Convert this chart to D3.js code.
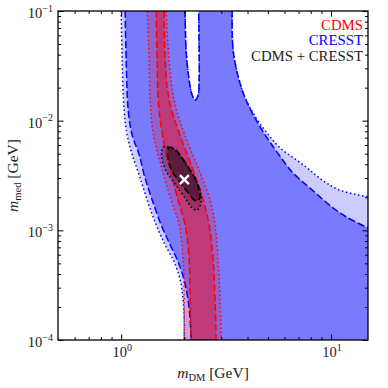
<!DOCTYPE html>
<html><head><meta charset="utf-8">
<script src="https://cdn.jsdelivr.net/npm/d3@7"></script>
<style>body{margin:0;background:#fff}svg{display:block}</style>
</head><body>
<svg id="c" width="388" height="388"></svg>
<script>
// ---------- data ----------
const xDomain = [0.5, 15];
const yDomain = [1e-4, 1e-1];
const xMajor = [1, 10];
const yMajor = [1e-4, 1e-3, 1e-2, 1e-1];
const xTickLabels = [["10", "0"], ["10", "1"]];
const yTickLabels = [["10", "−4"], ["10", "−3"], ["10", "−2"], ["10", "−1"]];
const legendLabels = ["CDMS", "CRESST", "CDMS + CRESST"];

// CRESST contours [mDM, mmed]
const cresst2Left = [[1.0,0.1],[1.011,0.0357],[1.033,0.0125],[1.068,0.0074],[1.128,0.0049],[1.218,0.0032],[1.33,0.00189],[1.468,0.00112],[1.62,0.000736],[1.788,0.000515],[1.91,0.000353],[1.974,0.000232],[1.995,0.000152],[1.995,0.0001]];
const cresst1Left = [[1.045,0.1],[1.056,0.0357],[1.08,0.0125],[1.128,0.0074],[1.218,0.0049],[1.287,0.0032],[1.405,0.00189],[1.551,0.00112],[1.711,0.000736],[1.868,0.000515],[1.995,0.000353],[2.084,0.000232],[2.131,0.000152],[2.154,0.0001]];
const cresst2Right = [[3.379,0.1],[3.415,0.0441],[3.647,0.0235],[3.937,0.01544],[4.394,0.01058],[4.957,0.00772],[5.655,0.00576],[7.60,0.00378],[9.06,0.00288],[10.92,0.00234],[15,0.00202]];
const cresst1Right = [[3.379,0.1],[3.415,0.0441],[3.647,0.0235],[3.937,0.01544],[4.394,0.01015],[4.957,0.00696],[5.655,0.00487],[6.52,0.00341],[8.12,0.00234],[10.11,0.00163],[11.79,0.00133],[15,0.00105]];
const cresstHole = [[2.017,0.1],[2.039,0.0441],[2.108,0.0235],[2.178,0.01715],[2.251,0.01544],[2.326,0.01715],[2.352,0.0235],[2.352,0.0441],[2.339,0.1]];

// CDMS band
const cdmsY = [0.1,0.0357,0.01544,0.00772,0.00355,0.00189,0.00112,0.000537,0.000232,0.0001];
const cdms2L = [1.330,1.359,1.374,1.420,1.567,1.730,1.889,1.974,1.995,1.995];
const cdms2R = [1.638,1.692,1.788,1.995,2.352,2.653,2.803,2.897,2.961,2.993];
const cdms1L = [1.468,1.484,1.501,1.567,1.711,1.868,2.017,2.108,2.131,2.154];
const cdms1R = [1.602,1.620,1.692,1.889,2.202,2.458,2.624,2.742,2.803,2.834];

// combined CDMS + CRESST
const comb1 = [[1.711,0.00572],[1.822,0.00541],[1.958,0.00454],[2.108,0.00368],[2.269,0.00288],[2.352,0.00234],[2.370,0.00196],[2.308,0.00187],[2.227,0.00189],[2.069,0.00225],[1.889,0.00278],[1.755,0.00343],[1.680,0.00423],[1.662,0.00504],[1.680,0.00560]];
const comb2 = [[1.602,0.00579],[1.755,0.00560],[1.889,0.00487],[2.069,0.00381],[2.269,0.00288],[2.396,0.00218],[2.396,0.00177],[2.308,0.00153],[2.186,0.00159],[1.995,0.00203],[1.822,0.00259],[1.662,0.00332],[1.573,0.00423],[1.556,0.00504],[1.573,0.00560]];
const bestFit = [2.0, 0.0029];

// ---------- chart ----------
const W = 388, H = 388;
const m = {l:58, r:20, t:11, b:48};
const svg = d3.select("#c");
const x = d3.scaleLog().domain(xDomain).range([m.l, W - m.r]);
const y = d3.scaleLog().domain(yDomain).range([H - m.b, m.t]);
const X0 = x.range()[0], X1 = x.range()[1], Y0 = y.range()[0], Y1 = y.range()[1];

svg.append("defs").append("clipPath").attr("id","clip")
  .append("rect").attr("x",X0).attr("y",Y1).attr("width",X1-X0).attr("height",Y0-Y1);

const line = d3.line().x(d=>x(d[0])).y(d=>y(d[1])).curve(d3.curveCatmullRom.alpha(0.5));
const closed = d3.line().x(d=>x(d[0])).y(d=>y(d[1])).curve(d3.curveCatmullRomClosed.alpha(0.5));
const cont = pts => line(pts).replace(/^M/, "L");
const corner = `L${X1},${Y0}`;

const g = svg.append("g").attr("clip-path","url(#clip)");

// fills
const cr2 = line(cresst2Left) + corner + cont(cresst2Right.slice().reverse()) + "Z" + line(cresstHole) + "Z";
const cr1 = line(cresst1Left) + corner + cont(cresst1Right.slice().reverse()) + "Z" + line(cresstHole) + "Z";
g.append("path").attr("d",cr2).attr("fill","rgba(0,0,255,0.2)").attr("fill-rule","evenodd");
g.append("path").attr("d",cr1).attr("fill","rgba(0,0,255,0.4)").attr("fill-rule","evenodd");

const zip = (xs) => xs.map((v,i)=>[v, cdmsY[i]]);
const c2L = zip(cdms2L), c2R = zip(cdms2R), c1L = zip(cdms1L), c1R = zip(cdms1R);
g.append("path").attr("d", line(c2L) + cont(c2R.slice().reverse()) + "Z").attr("fill","rgba(255,0,0,0.2)");
g.append("path").attr("d", line(c1L) + cont(c1R.slice().reverse()) + "Z").attr("fill","rgba(255,0,0,0.4)");

g.append("path").attr("d", closed(comb2)).attr("fill","rgba(0,0,0,0.2)");
g.append("path").attr("d", closed(comb1)).attr("fill","rgba(0,0,0,0.4)");

// lines
const DOT = "1.5,2.6", DASH = "7,3";
function stroke(d, col, dash){
  g.append("path").attr("d",d).attr("fill","none").attr("stroke",col)
   .attr("stroke-width",1.5).attr("stroke-dasharray",dash);
}
[cresst2Left, cresst2Right, cresstHole].forEach(p=>stroke(line(p),"#0000ff",DOT));
[cresst1Left, cresst1Right, cresstHole].forEach(p=>stroke(line(p),"#0000ff",DASH));
[c2L, c2R].forEach(p=>stroke(line(p),"#ff0000",DOT));
[c1L, c1R].forEach(p=>stroke(line(p),"#ff0000",DASH));
stroke(closed(comb2),"#000",DOT);
stroke(closed(comb1),"#000",DASH);

// best fit marker
svg.append("path").attr("d", d3.symbol().type(d3.symbolX).size(55)())
  .attr("transform",`translate(${x(bestFit[0])},${y(bestFit[1])})`)
  .attr("fill","none").attr("stroke","#fff").attr("stroke-width",2.4);

// axes (inward ticks on all four sides)
const xMinor = x.ticks().filter(v=>!xMajor.includes(v) && v>xDomain[0] && v<xDomain[1]);
const yMinor = y.ticks().filter(v=>!yMajor.includes(v));
function ax(gen, scale, vals, size, tr){
  svg.append("g").attr("transform",tr)
    .call(gen(scale).tickValues(vals).tickSize(size).tickFormat(""))
    .call(s=>{s.select(".domain").remove(); s.selectAll("line").attr("stroke","#000").attr("stroke-width",1);});
}
ax(d3.axisBottom, x, xMajor, -5.5, `translate(0,${Y0})`);
ax(d3.axisBottom, x, xMinor, -3, `translate(0,${Y0})`);
ax(d3.axisTop, x, xMajor, -5.5, `translate(0,${Y1})`);
ax(d3.axisTop, x, xMinor, -3, `translate(0,${Y1})`);
ax(d3.axisLeft, y, yMajor, -5.5, `translate(${X0},0)`);
ax(d3.axisLeft, y, yMinor, -3, `translate(${X0},0)`);
ax(d3.axisRight, y, yMajor, -5.5, `translate(${X1},0)`);
ax(d3.axisRight, y, yMinor, -3, `translate(${X1},0)`);

svg.append("rect").attr("x",X0).attr("y",Y1).attr("width",X1-X0).attr("height",Y0-Y1)
  .attr("fill","none").attr("stroke","#000").attr("stroke-width",1.3);

const FONT = "'Liberation Serif', 'DejaVu Serif', serif";
function powLabel(px, py, lab, anchor){
  const t = svg.append("text").attr("x",px).attr("y",py).attr("text-anchor",anchor)
    .attr("font-family",FONT).attr("fill","#222");
  t.append("tspan").attr("font-size",14.5).text(lab[0]);
  t.append("tspan").attr("font-size",10).attr("dy",-6.5).text(lab[1]);
}
yMajor.forEach((v,i)=>powLabel(X0-5, y(v)+7, yTickLabels[i], "end"));
xMajor.forEach((v,i)=>powLabel(x(v)+1, Y0+17, xTickLabels[i], "middle"));

// axis titles
const xt = svg.append("text").attr("x",(X0+X1)/2).attr("y",378).attr("text-anchor","middle")
  .attr("font-family",FONT).attr("font-size",15.5).attr("fill","#222");
xt.append("tspan").attr("font-style","italic").text("m");
xt.append("tspan").attr("font-size",10.5).attr("dy",3).text("DM");
xt.append("tspan").attr("dy",-3).text(" [GeV]");

const yt = svg.append("text").attr("transform",`translate(18,${(Y0+Y1)/2}) rotate(-90)`)
  .attr("text-anchor","middle").attr("font-family",FONT).attr("font-size",15.5).attr("fill","#222");
yt.append("tspan").attr("font-style","italic").text("m");
yt.append("tspan").attr("font-size",10.5).attr("dy",3).text("med");
yt.append("tspan").attr("dy",-3).text(" [GeV]");

// legend
const legCols = ["#ff0000","#0000ff","#222"];
legendLabels.forEach((s,i)=>{
  svg.append("text").attr("x",X1-5).attr("y",29.5+15.7*i).attr("text-anchor","end")
    .attr("font-family",FONT).attr("font-size",14.8).attr("fill",legCols[i]).text(s);
});
</script>
</body></html>
